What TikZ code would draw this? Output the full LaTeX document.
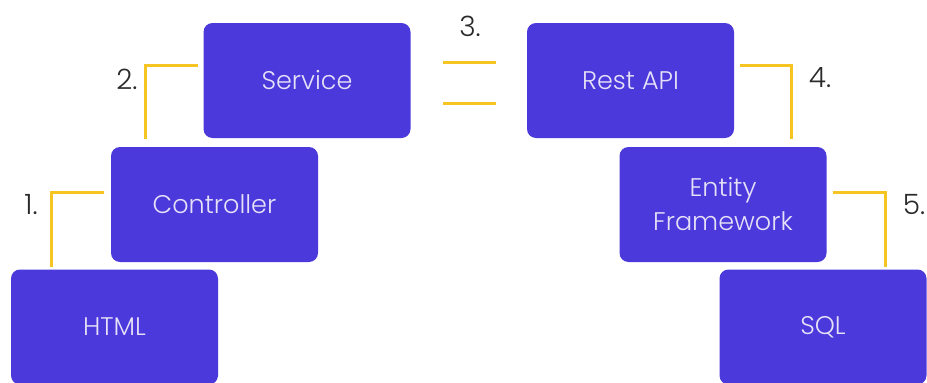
\documentclass[tikz,border=0pt]{standalone}
\usepackage{fontspec}
\setmainfont{Poppins}[UprightFont=* Light]
\usepackage{tikz}
\usetikzlibrary{positioning,calc}
\usepackage{xcolor}
\definecolor{layerBlue}{HTML}{4B39DB}
\definecolor{layerText}{HTML}{E6E1F7}
\definecolor{linkYellow}{HTML}{F6C524}
\definecolor{labelGray}{HTML}{2A2A2A}

\begin{document}
\begin{tikzpicture}[
        x=1pt, y=-1pt,
        layerBox/.style={rectangle, rounded corners=9pt, fill=layerBlue, text=layerText, minimum width=207pt, minimum height=115pt, inner sep=0pt, font=\fontsize{25.5}{34}\selectfont, align=center},
        linkLine/.style={draw=linkYellow, line width=3pt},
        stepLabel/.style={text=labelGray, font=\fontsize{28}{30}\selectfont, inner sep=0pt}
    ]
        \useasboundingbox (0,0) rectangle (927,383);

        % Left stack
        \node[layerBox] (html) at (114.5, 327) {HTML};
        \node[layerBox] (controller) at (214.5, 204.5) {Controller};
        \node[layerBox] (service) at (307, 80.5) {Service};

        % Right stack
        \node[layerBox] (restApi) at (630.5, 80.5) {Rest API};
        \node[layerBox] (entityFw) at (723, 204.5) {Entity\\Framework};
        \node[layerBox] (sql) at (823, 327) {SQL};

        % Step links
        \draw[linkLine] ([xshift=41pt, yshift=2pt]html.north west) |- ([shift={(-7pt,12pt)}]controller.west);
        \draw[linkLine] ([xshift=35pt, yshift=8pt]controller.north west) |- ([shift={(-5pt,15pt)}]service.west);
        \draw[linkLine] ([shift={(6pt,15pt)}]restApi.east) -| ([xshift=-35pt, yshift=8pt]entityFw.north east);
        \draw[linkLine] ([shift={(6pt,12pt)}]entityFw.east) -| ([xshift=-41pt, yshift=2pt]sql.north east);

        % Equals between stacks
        \coordinate (eqTopL) at (443, 62);
        \coordinate (eqTopR) at (496, 62);
        \coordinate (eqBotL) at (443, 103);
        \coordinate (eqBotR) at (496, 103);
        \draw[linkLine] (eqTopL) -- (eqTopR);
        \draw[linkLine] (eqBotL) -- (eqBotR);

        % Step numbers
        \node[stepLabel] (stepOne) at (31, 205) {1.};
        \node[stepLabel] (stepTwo) at (127, 79) {2.};
        \node[stepLabel] (stepThree) at (470, 26) {3.};
        \node[stepLabel] (stepFour) at (820, 78) {4.};
        \node[stepLabel] (stepFive) at (914, 205) {5.};
    \end{tikzpicture}
\end{document}
